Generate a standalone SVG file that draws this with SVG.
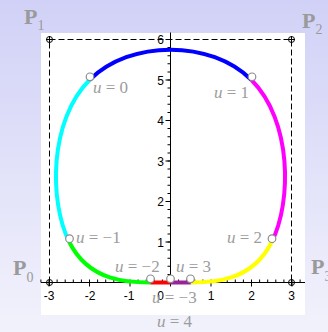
<svg xmlns="http://www.w3.org/2000/svg" width="328" height="332" viewBox="0 0 328 332">
<style>
.seg{fill:none;stroke-width:4;stroke-linecap:butt}
.tick{font-family:"Liberation Sans",Arial,sans-serif;font-size:12px;fill:#000}
.ul{font-family:"Liberation Serif","Times New Roman",serif;font-size:17px;fill:#9c9c9c}
.ul tspan.i{font-style:italic}
.pl{font-family:"Liberation Serif","Times New Roman",serif;font-size:22px;font-weight:bold;fill:#9a9a9a}
.pl tspan.s{font-size:14px;font-weight:normal}
.pt{fill:#fff;stroke:#8c8c8c;stroke-width:1.2}
</style>
<defs>
<linearGradient id="bg" x1="0" y1="0" x2="0" y2="1">
<stop offset="0" stop-color="#d1d1f7"/>
<stop offset="1" stop-color="#f2f2fc"/>
</linearGradient>
<g id="cp"><circle r="3" fill="none" stroke="#000" stroke-width="1"/><path d="M-3.5,0H3.5M0,-3.5V3.5" stroke="#000" stroke-width="1"/></g>
</defs>
<rect x="0" y="0" width="328" height="332" fill="url(#bg)"/>
<rect x="41" y="33" width="264" height="282" fill="#fff"/>
<g id="control-polygon">
<path d="M49.5,282.5V39.5H291.5V282.5" fill="none" stroke="#000" stroke-width="1" stroke-dasharray="6 3"/>
</g>
<g id="axes" stroke="#000">
<line x1="41" y1="282.5" x2="305" y2="282.5" stroke-width="1"/>
<line x1="170.5" y1="32.5" x2="170.5" y2="282.5" stroke-width="1"/>
<line x1="40.4" y1="281" x2="300.6" y2="281" stroke-width="3" stroke-dasharray="1 7.1"/>
<line x1="48.5" y1="284.5" x2="292.5" y2="284.5" stroke-width="4" stroke-dasharray="1 39.5"/>
<line x1="169" y1="39" x2="169" y2="283" stroke-width="3" stroke-dasharray="1 7.1"/>
<line x1="168" y1="39" x2="168" y2="283" stroke-width="5" stroke-dasharray="1 39.5"/>
</g>
<g id="tick-labels" class="tick">
<text x="49" y="300" text-anchor="middle">-3</text>
<text x="90" y="300" text-anchor="middle">-2</text>
<text x="129" y="300" text-anchor="middle">-1</text>
<text x="160.5" y="300" text-anchor="middle">0</text>
<text x="211" y="300" text-anchor="middle">1</text>
<text x="251.5" y="300" text-anchor="middle">2</text>
<text x="291.5" y="300" text-anchor="middle">3</text>
<text x="164" y="246.5" text-anchor="end">1</text>
<text x="164" y="206" text-anchor="end">2</text>
<text x="164" y="165.5" text-anchor="end">3</text>
<text x="164" y="125" text-anchor="end">4</text>
<text x="164" y="84.5" text-anchor="end">5</text>
<text x="164" y="44" text-anchor="end">6</text>
</g>
<g id="curve">
<path class="seg" stroke="#ff0000" d="M170.5,282.5L150.25,282.5"/>
<path class="seg" stroke="#00ff00" d="M150.25,282.5C130,282.5 89.5,282.5 69.25,242"/>
<path class="seg" stroke="#00ffff" d="M69.25,242C49,201.5 49,120.5 89.5,80"/>
<path class="seg" stroke="#0000ff" d="M89.5,80C130,39.5 211,39.5 251.5,80"/>
<path class="seg" stroke="#ff00ff" d="M251.5,80C292,120.5 292,201.5 271.75,242"/>
<path class="seg" stroke="#ffff00" d="M271.75,242C251.5,282.5 211,282.5 190.75,282.5"/>
<path class="seg" stroke="#992299" d="M190.75,282.5L170.5,282.5"/>
</g>
<g id="knots">
<circle class="pt" cx="90" cy="76.8" r="3.8"/>
<circle class="pt" cx="252" cy="76.8" r="3.8"/>
<circle class="pt" cx="69.5" cy="238.7" r="3.8"/>
<circle class="pt" cx="272" cy="238.7" r="3.8"/>
<circle class="pt" cx="150.5" cy="278.8" r="3.8"/>
<circle class="pt" cx="170.5" cy="278.8" r="3.8"/>
<circle class="pt" cx="190.5" cy="278.8" r="3.8"/>
</g>
<g id="knot-labels" class="ul">
<text x="93" y="93"><tspan class="i">u</tspan> = 0</text>
<text x="214" y="98"><tspan class="i">u</tspan> = 1</text>
<text x="76" y="243"><tspan class="i">u</tspan> = −1</text>
<text x="227" y="243"><tspan class="i">u</tspan> = 2</text>
<text x="115" y="272"><tspan class="i">u</tspan> = −2</text>
<text x="176" y="272"><tspan class="i">u</tspan> = 3</text>
<text x="152" y="303"><tspan class="i">u</tspan> = −3</text>
<text x="157" y="327"><tspan class="i">u</tspan> = 4</text>
</g>
<g id="control-points">
<use href="#cp" x="49.5" y="282.5"/>
<use href="#cp" x="49.5" y="39.5"/>
<use href="#cp" x="291.5" y="39.5"/>
<use href="#cp" x="291.5" y="282.5"/>
</g>
<g id="point-labels" class="pl">
<text x="13" y="275">P<tspan class="s" dy="7">0</tspan></text>
<text x="24" y="24">P<tspan class="s" dy="6">1</tspan></text>
<text x="302" y="28">P<tspan class="s" dy="6">2</tspan></text>
<text x="311" y="274">P<tspan class="s" dy="7">3</tspan></text>
</g>
</svg>
